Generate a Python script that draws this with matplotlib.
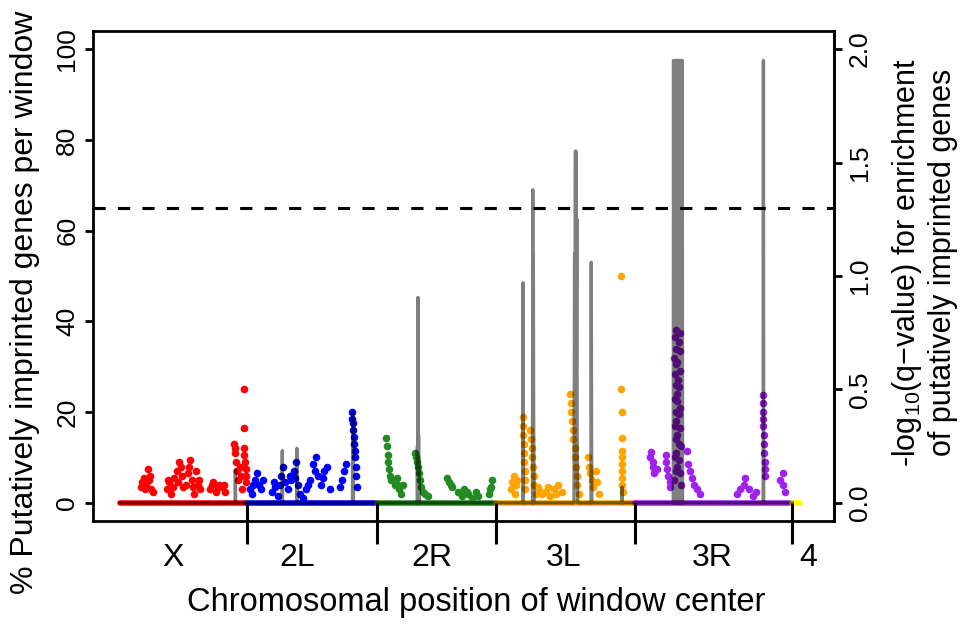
import numpy as np
import matplotlib
matplotlib.use('Agg')
import matplotlib.pyplot as plt

plt.rcParams['font.family'] = ['Liberation Sans', 'DejaVu Sans']
plt.rcParams['mathtext.default'] = 'regular'

# chromosome arms (cumulative Mb)
arms = ['X', '2L', '2R', '3L', '3R', '4']
arm_colors = ['#FF0000', '#0000FF', '#228B22', '#FFA500', '#A020F0', '#FFFF00']
arm_start = [0.0, 22.4, 45.4, 66.5, 91.0, 118.9]
arm_end = [22.4, 45.4, 66.5, 91.0, 118.9, 120.3]
label_pos = [9.4, 31.3, 55.2, 78.4, 104.8, 121.8]

# % putatively imprinted genes per window (non-zero windows only)
x_pos = [3.7, 3.9, 4.2, 4.4, 4.6, 5.0, 5.1, 5.3, 5.5, 5.8,
         8.3, 8.5, 8.7, 9.0, 9.3, 9.6, 10.1, 10.2, 10.4, 10.8, 11.0, 11.2,
         11.7, 12.0, 12.2, 12.4, 12.7, 12.9, 13.1, 13.5, 13.8, 14.0, 14.2,
         15.9, 16.2, 16.5, 17.0, 17.3, 17.5, 18.1, 18.4, 18.6,
         20.2, 20.3, 20.4, 20.5, 20.7, 20.9, 21.2, 21.4, 21.6,
         21.9, 21.9, 22.0, 22.0, 22.1, 22.2, 22.3, 22.3]
x_pct = [3.5, 4.5, 5.5, 3.0, 4.0, 7.5, 5.0, 6.0, 3.0, 2.5,
         3.0, 5.0, 4.5, 2.0, 3.5, 5.5, 7.0, 4.5, 9.0, 8.0, 6.0, 3.5,
         4.0, 6.5, 8.0, 9.5, 5.0, 3.5, 2.0, 7.0, 4.0, 5.0, 3.0,
         3.0, 4.0, 4.5, 2.5, 3.5, 4.0, 3.5, 4.0, 2.5,
         13.0, 12.0, 11.0, 9.0, 7.0, 5.0, 8.0, 6.0, 3.0,
         25.0, 16.5, 12.0, 10.5, 9.0, 7.5, 6.0, 4.5]

l2_pos = [23.0, 23.4, 23.6, 23.9, 24.2, 24.6, 25.0, 25.3,
          26.9, 27.2, 27.4, 28.0, 28.3, 28.5, 28.8, 29.2, 29.7, 30.0, 30.3, 30.8, 31.0, 31.2, 31.5, 31.9,
          32.4, 32.9, 33.3, 33.6, 34.2, 34.5, 34.7, 35.0, 35.6, 35.9, 36.1, 36.6, 37.2,
          38.9, 39.3, 39.6, 40.0,
          41.1, 41.1, 41.2, 41.2, 41.4, 41.4, 41.6, 41.6, 41.8, 41.8, 41.9]
l2_pct = [3, 2, 4, 5, 6.5, 4, 3, 5,
          2.5, 4.5, 3.5, 1.5, 4, 6, 8, 4.5, 3, 6, 5, 7, 5.5, 9, 4, 2,
          1, 3, 4, 5, 8.5, 7, 10, 6, 4, 5.5, 7, 8, 3,
          3.5, 5, 7, 8.5,
          20, 18.5, 17.5, 16, 14.5, 13, 11.5, 10, 8, 6, 3.5]

r2_pos = [47.1, 47.3, 47.4, 47.4, 47.6, 47.8, 48.0,
          48.7, 49.0, 49.2, 49.4, 49.7, 50.1,
          52.2, 52.4, 52.6, 52.7, 52.9, 53.1, 53.3, 53.5, 54.0, 54.5,
          57.9, 58.2, 58.5, 58.8, 59.8, 60.4, 60.9, 61.3, 61.6, 62.3, 63.0, 63.4,
          65.3, 65.5, 65.7, 65.8]
r2_pct = [14.3, 12.5, 10.5, 9, 7.5, 6, 5,
          4, 5.5, 4, 3, 2, 4,
          11, 10, 9, 8, 6.5, 5, 3.5, 2.5, 2, 1.5,
          5.5, 4.5, 4, 3.5, 2.5, 1.5, 3, 2.5, 2, 1, 2.5, 1.5,
          2, 3, 3.5, 5]

l3_pos = [69.2, 69.4, 69.6, 69.9, 70.1, 70.3,
          71.2, 71.3, 71.3, 71.4, 71.5, 71.5, 71.6, 71.7, 71.7,
          72.6, 72.7, 72.8, 72.9, 73.0, 73.2, 73.3, 73.5,
          74.0, 74.4, 74.7, 75.4, 75.7, 76.1, 76.8, 77.1, 77.5, 78.2,
          79.6, 79.7, 79.8, 80.0, 80.1, 80.2, 80.4, 80.5, 80.6, 80.8, 80.9, 81.1,
          82.8, 83.0, 83.2, 83.4, 83.7, 84.1, 84.4, 84.8,
          88.6, 88.6, 88.7, 88.7, 88.7, 88.7, 88.8, 88.8, 88.8, 88.8, 88.9]
l3_pct = [3, 4.5, 6, 2, 4, 5,
          19, 17, 15, 13, 11, 9, 7, 5, 3,
          16, 14, 12, 10, 8, 6, 4, 2,
          3.5, 2.5, 2, 2.5, 3.5, 1.5, 3, 2, 4, 2.5,
          24, 22, 20, 18, 16, 14, 12, 10, 8, 6, 4, 2,
          10, 8, 6.5, 5, 3.5, 7, 4.5, 2,
          50, 25, 20, 14.3, 11.5, 10, 8.5, 7, 5.5, 4, 2.5]

r3_pos = [93.8, 94.0, 94.2, 94.3, 94.5, 94.9,
          96.5, 96.6, 96.8, 97.0, 97.2, 97.3,
          98.4, 99.0, 98.2, 98.8, 98.3, 99.1, 98.0, 98.6, 98.4, 99.0, 98.2, 98.7,
          98.3, 98.9, 98.5, 98.1, 98.6, 99.1, 98.3, 98.8, 98.4, 98.1, 99.0, 98.5,
          98.3, 98.9, 99.2, 98.4, 98.2, 98.8, 98.5, 98.3, 99.0, 98.0, 99.2,
          100.2, 100.5, 100.9, 101.2, 101.6, 102.1, 102.5,
          109.2, 109.7, 110.3, 110.6, 111.2, 111.9, 112.4,
          113.7, 113.7, 113.8, 113.8, 113.8, 113.9, 113.9, 113.9, 114.0, 114.0, 114.0,
          116.8, 117.2, 117.3, 117.7]
r3_pct = [10, 11.3, 9, 8, 6.5, 7.5,
          10.5, 9, 7.5, 6, 4.5, 3.5,
          38, 37.5, 36.5, 35.5, 34, 33.5, 32, 31, 30.5, 29, 28.5, 27,
          26, 25.5, 24, 23, 22.5, 21, 20, 19.5, 18, 17, 16.5, 15,
          14, 13, 12.5, 11, 10, 9.5, 8, 7, 6.5, 5, 4,
          11.5, 8.5, 7, 5.5, 4, 3, 2,
          2, 3, 4, 5.5, 3, 1.5, 2.5,
          23.8, 22, 20, 18.5, 17, 15, 13, 11, 9, 7.5, 6,
          5, 6.5, 4, 2.5]

f4_pos = []
f4_pct = []

# -log10(q-value) track
q_pos = [0.0,
         20.35, 20.4, 20.45,
         28.65, 28.7, 28.75, 31.25, 31.3, 31.35, 41.1, 41.2, 41.3,
         52.55, 52.6, 52.65, 52.7, 52.75, 52.8, 52.9, 53.0,
         71.25, 71.3, 71.35,
         72.95, 73.0, 73.05, 73.1, 73.15, 73.25,
         80.3, 80.4, 80.45, 80.55, 80.6, 80.65, 80.7, 80.8, 80.85, 80.95,
         83.3, 83.35, 83.4, 83.45,
         88.75, 88.8, 88.85,
         97.85, 97.9, 97.97, 98.04, 98.11, 98.18, 98.25, 98.32, 98.39, 98.46, 98.53,
         98.6, 98.67, 98.74, 98.81, 98.88, 98.95, 99.02, 99.09, 99.16, 99.23, 99.3,
         99.37, 99.44, 99.5,
         113.75, 113.8, 113.85,
         118.9]
q_val = [0.0,
         0.0, 0.146, 0.0,
         0.0, 0.23, 0.0, 0.0, 0.24, 0.0, 0.0, 0.40, 0.0,
         0.0, 0.25, 0.0, 0.905, 0.0, 0.3, 0.1, 0.0,
         0.0, 0.97, 0.0,
         0.0, 1.38, 0.0, 1.1, 0.4, 0.0,
         0.0, 1.1, 0.2, 1.55, 0.3, 1.55, 0.5, 1.25, 0.3, 0.0,
         0.0, 1.06, 0.3, 0.0,
         0.0, 0.07, 0.0,
         0.0, 1.95, 0.0, 1.95, 0.0, 1.95, 0.0, 1.95, 0.0, 1.95, 0.0,
         1.95, 0.0, 1.95, 0.0, 1.95, 0.0, 1.68, 0.0, 1.95, 0.0, 1.95,
         0.0, 1.95, 0.0,
         0.0, 1.95, 0.0,
         0.0]
q_cut = 1.3

arm_pos = [x_pos, l2_pos, r2_pos, l3_pos, r3_pos, f4_pos]
arm_pct = [x_pct, l2_pct, r2_pct, l3_pct, r3_pct, f4_pct]

fig = plt.figure(figsize=(9.71, 6.26), dpi=100)
ax = fig.add_axes([0.0958, 0.1677, 0.7632, 0.7828])

for i in range(len(arms)):
    ax.hlines(0, arm_start[i], arm_end[i], colors=arm_colors[i], lw=4, capstyle='round', zorder=2)
    ax.scatter(arm_pos[i], arm_pct[i], s=30, color=arm_colors[i], linewidths=0, zorder=3)

ax.set_xlim(-4.78, 126.3)
ax.set_ylim(-4, 104)
ax.set_yticks([0, 20, 40, 60, 80, 100])
ax.set_xticks(label_pos, arms)
ax.tick_params(axis='x', length=0, pad=16, labelsize=23)
ax.tick_params(axis='y', length=6, width=2, labelsize=19, labelrotation=90, pad=4)
for s in ax.spines.values():
    s.set_linewidth(2)

# chromosome boundaries
ax.vlines(arm_start[1:], -9.0, 0, colors='black', lw=2.2, clip_on=False, zorder=4)

ax2 = ax.twinx()
ax2.plot(q_pos, q_val, color='black', alpha=0.5, lw=2.4)
ax2.axhline(q_cut, color='black', lw=2.2, linestyle=(0, (4, 4)))
ax2.set_ylim(-0.08, 2.08)
ax2.set_yticks([0, 0.5, 1.0, 1.5, 2.0], ['0.0', '0.5', '1.0', '1.5', '2.0'])
ax2.tick_params(axis='y', length=6, width=2, labelsize=19, labelrotation=90, pad=4)
for k in ['left', 'top', 'bottom']:
    ax2.spines[k].set_visible(False)
ax2.spines['right'].set_linewidth(2)

for t in ax.get_yticklabels():
    t.set_va('center')
for t in ax2.get_yticklabels():
    t.set_va('center')

fig.text(25 / 971, 1 - 302 / 626, '% Putatively imprinted genes per window',
         rotation=90, ha='center', va='center', fontsize=23)
fig.text(907 / 971, 1 - 262 / 626, '-log$_{10}$(q\u2212value) for enrichment',
         rotation=90, ha='center', va='center', fontsize=22)
fig.text(943 / 971, 1 - 262 / 626, 'of putatively imprinted genes',
         rotation=90, ha='center', va='center', fontsize=22)
fig.text(476 / 971, 1 - 603 / 626, 'Chromosomal position of window center',
         ha='center', va='center', fontsize=23.5)

fig.savefig('out.png', dpi=100)
